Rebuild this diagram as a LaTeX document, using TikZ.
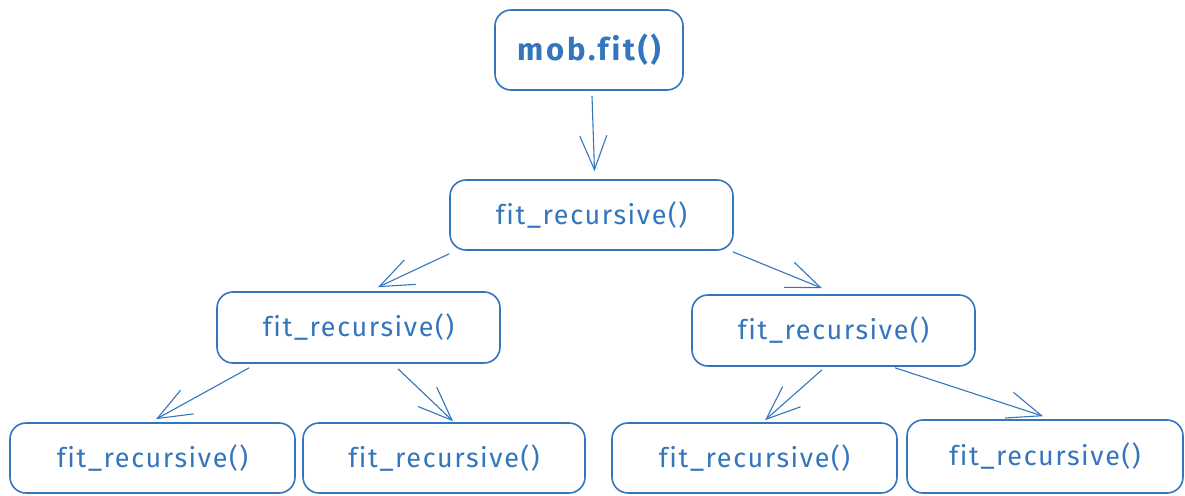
\documentclass[tikz,border=0pt]{standalone}
\usepackage{fontspec}
\setmainfont[Ligatures=NoCommon]{Fira Sans}
\usetikzlibrary{arrows.meta}
\definecolor{ink}{RGB}{52,118,190}
\tikzset{
  box/.style={draw=ink, line width=1.6pt, rounded corners=16pt, fill=white,
    text=ink, font=\fontsize{27}{30}\selectfont\addfontfeatures{LetterSpace=6}},
  link/.style={draw=ink, line width=1.1pt,
    -{Straight Barb[length=34pt, width=27pt, line width=1.1pt]}}
}
\begin{document}
\begin{tikzpicture}[x=1pt, y=-1pt]
\useasboundingbox (0,0) rectangle (1185,495);
\clip (0,0) rectangle (1185,495);
\fill[white] (0,0) rectangle (1185,495);

% call tree
\node[box, minimum width=188pt, minimum height=80pt,
      font=\fontsize{31}{34}\selectfont\bfseries\addfontfeatures{LetterSpace=9}] (top) at (589,50) {mob.fit()};
\node[box, minimum width=283pt, minimum height=70pt] (l1) at (591.5,215) {fit\_recursive()};
\node[box, minimum width=283pt, minimum height=71pt] (l2l) at (358.5,327.5) {fit\_recursive()};
\node[box, minimum width=283pt, minimum height=71pt] (l2r) at (833.5,330.5) {fit\_recursive()};
\node[box, minimum width=285pt, minimum height=70pt] (bl1) at (152.5,458) {fit\_recursive()};
\node[box, minimum width=282pt, minimum height=70pt] (bl2) at (444,458) {fit\_recursive()};
\node[box, minimum width=285pt, minimum height=70pt] (br1) at (754.5,458) {fit\_recursive()};
\node[box, minimum width=276pt, minimum height=73pt] (br2) at (1045,456.5) {fit\_recursive()};

% calls
\draw[link] ([xshift=3pt,yshift=-5pt]top.south) -- ([xshift=3pt,yshift=8pt]l1.north);
\draw[link] ([yshift=-3pt]l1.south west) -- ([xshift=19.5pt,yshift=4pt]l2l.north);
\draw[link] ([xshift=-1pt,yshift=-1pt]l1.south east) -- ([xshift=-11.5pt,yshift=6pt]l2r.north);
\draw[link] ([xshift=33pt,yshift=-4pt]l2l.south west) -- ([xshift=3.5pt,yshift=3pt]bl1.north);
\draw[link] ([xshift=39.5pt,yshift=-5pt]l2l.south) -- ([xshift=9pt,yshift=1pt]bl2.north);
\draw[link] ([xshift=-11.5pt,yshift=-3pt]l2r.south) -- ([xshift=10.5pt,yshift=2pt]br1.north);
\draw[link] ([xshift=61.5pt,yshift=-1pt]l2r.south) -- ([xshift=-2pt,yshift=3pt]br2.north);
\end{tikzpicture}
\end{document}
